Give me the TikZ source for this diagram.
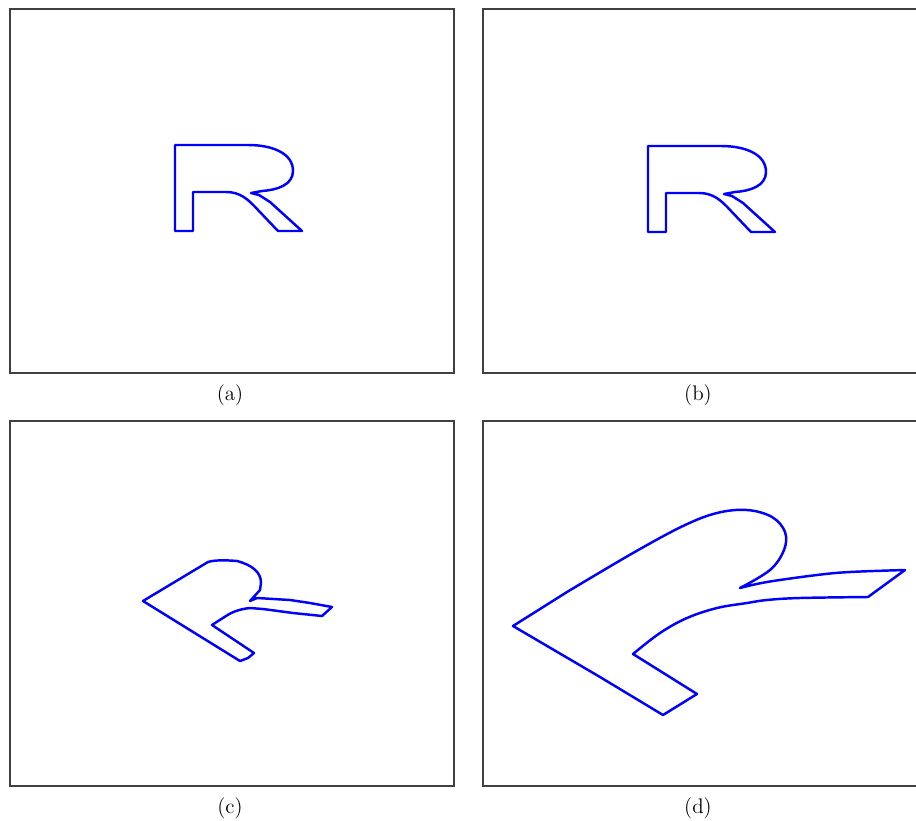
\documentclass[tikz,border=0pt]{standalone}
\begin{document}
\begin{tikzpicture}[x=0.02cm,y=-0.02cm,
  frame/.style={draw=black!75,line width=0.6pt},
  contour/.style={draw=blue,line width=1.4pt,line join=round},
  caption/.style={font=\fontsize{12}{14}\selectfont,inner sep=0pt}]
\useasboundingbox (0,0) rectangle (916,821);
% frames
\draw[frame] (10,9) rectangle (454,373);
\draw[frame] (916,9) -- (483,9) -- (483,373) -- (916,373);
\draw[frame] (10,421) rectangle (454,786);
\draw[frame] (916,421) -- (483,421) -- (483,786) -- (916,786);
% captions
\node[caption] (capa) at (230,395) {(a)};
\node[caption] (capb) at (698,395) {(b)};
\node[caption] (capc) at (230,808) {(c)};
\node[caption] (capd) at (698,808) {(d)};
% R shape (a) and (b)
\foreach \dx/\dy in {0/0, 473/1}{
\begin{scope}[shift={(\dx,\dy)}]
\draw[contour] (175,145) -- (248,145)
  .. controls (272,145) and (293,153) .. (293,171)
  .. controls (293,185) and (277,190) .. (262,191)
  -- (251,193) -- (259,195) -- (270,202) -- (302,231) -- (278,231)
  -- (258,210) .. controls (248,199) and (240,192) .. (226,192)
  -- (193,192) -- (193,231) -- (175,231) -- cycle;
\end{scope}}
% (c)
\draw[contour] (143,601) -- (208,562)
  .. controls (214,560) and (225,560) .. (237,561)
  .. controls (252,565) and (261,572) .. (261,583)
  -- (260,590) -- (250,601) -- (257,598) -- (290,600) -- (310,603) -- (332,607)
  -- (322,616) -- (293,613) -- (263,609) -- (250,608)
  .. controls (240,609) and (232,612) .. (226,616)
  -- (212,625) -- (254,653) -- (248,658) -- (240,661) -- cycle;
% (d)
\draw[contour] (513,626) -- (567,592) -- plot[smooth,tension=0.6] coordinates {(567,592) (633,553) (683,526) (717,513) (747,510) (772,517) (785,532) (784,550) (770,570) (740,588)}
  -- plot[smooth,tension=0.6] coordinates {(740,588) (767,582) (817,575) (850,572) (905,570)}
  -- (868,597)
  -- plot[smooth,tension=0.6] coordinates {(868,597) (800,598) (767,600) (747,603) (717,608) (687,618) (660,633) (633,654)}
  -- (697,694) -- (663,715) -- (600,677) -- cycle;
\end{tikzpicture}
\end{document}
